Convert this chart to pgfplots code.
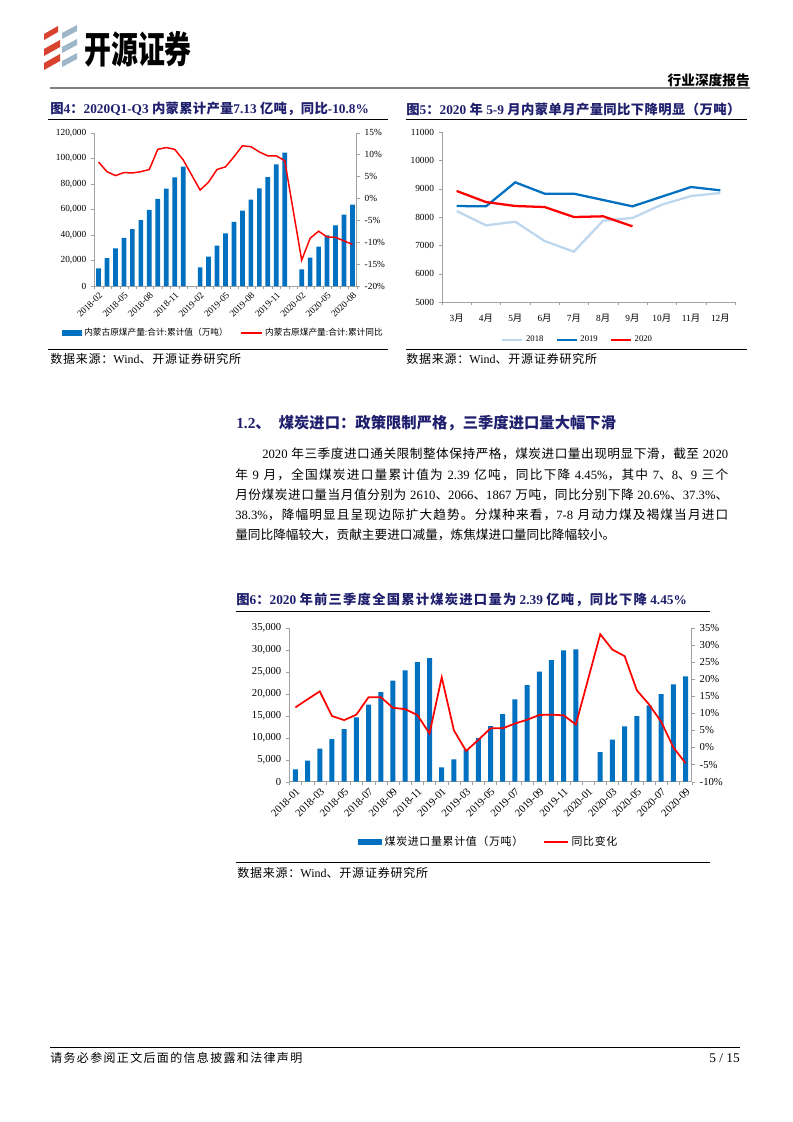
\documentclass[border=0pt]{standalone}
\usepackage{pgfplots}
\pgfplotsset{compat=1.18}
\usepackage{graphicx}
\usepackage{fontspec}
\setmainfont{Liberation Serif}
\newfontfamily\cjk{Noto Sans CJK SC}
% automatic switch to the CJK font for CJK characters
\XeTeXinterchartokenstate=1
\newXeTeXintercharclass\zhcls
\newcount\zhc
\zhc="2E80 \loop\ifnum\zhc<"A000 \XeTeXcharclass\zhc=\zhcls \advance\zhc by 1 \repeat
\zhc="FF00 \loop\ifnum\zhc<"FFF0 \XeTeXcharclass\zhc=\zhcls \advance\zhc by 1 \repeat
\newskip\zhgap \zhgap=0pt plus 1pt
\XeTeXinterchartoks 0 \zhcls = {\begingroup\cjk}
\XeTeXinterchartoks 4095 \zhcls = {\begingroup\cjk}
\XeTeXinterchartoks \zhcls 0 = {\endgroup}
\XeTeXinterchartoks \zhcls 4095 = {\endgroup}
\XeTeXinterchartoks \zhcls \zhcls = {\hskip\zhgap}

\definecolor{barblue}{HTML}{0070C0}
\definecolor{navy}{HTML}{1F1F6E}
\definecolor{lb}{HTML}{BDD7EE}
\definecolor{axgray}{HTML}{A0A0A0}
\definecolor{logored}{HTML}{D8422E}
\definecolor{logoblue}{HTML}{9DB6C8}

\pgfplotsset{
  base/.style={scale only axis, axis line style={axgray,-}, tick style={axgray},
    major tick length=2.5pt, minor tick length=2.5pt, tick align=outside,
    scaled ticks=false, clip=false, legend cell align=left},
}

\begin{document}
\begin{tikzpicture}
\begin{scope}[x=0.75pt,y=-0.75pt]
\fill[white] (0,0) rectangle (793,1122);
\useasboundingbox (0,0) rectangle (793,1122);
% ---------- header ----------
\fill[logored] (44,34) -- (58,26) -- (58,32) -- (44,40) -- cycle;
\fill[logored] (44,49) -- (60,40) -- (60,47) -- (44,56) -- cycle;
\fill[logored] (44,63) -- (60,54) -- (60,61) -- (44,70) -- cycle;
\fill[logoblue] (62,33) -- (77,25) -- (77,31) -- (62,39) -- cycle;
\fill[logoblue] (62,47) -- (77,39) -- (77,45) -- (62,53) -- cycle;
\fill[logoblue] (62,61) -- (77,53) -- (77,59) -- (62,67) -- cycle;
\node[anchor=west, inner sep=0] at (84,49) {\fontsize{28}{28}\selectfont\bfseries\scalebox{0.72}[1]{开源证券}};
\node[anchor=east, inner sep=0] at (750,80) {\fontsize{10.25}{12}\selectfont\bfseries 行业深度报告};
\draw[line width=1.5pt, color=gray] (50,88) -- (750,88);
% ---------- figure titles ----------
\node[anchor=west, inner sep=0, text=navy] at (50,109) {\fontsize{10}{12}\selectfont\bfseries\zhgap=0.2pt 图4：2020Q1-Q3 内蒙累计产量7.13 亿吨，同比-10.8\%};
\draw[line width=0.75pt] (48,119) -- (388,119);
\node[anchor=west, inner sep=0, text=navy] at (406,109) {\fontsize{10}{12}\selectfont\bfseries\zhgap=0.3pt 图5：2020 年 5-9 月内蒙单月产量同比下降明显（万吨）};
\draw[line width=0.75pt] (406,119) -- (747,119);
\draw[line width=0.75pt] (48,349) -- (388,349);
\node[anchor=west, inner sep=0] at (50,359) {\fontsize{9}{10}\selectfont\zhgap=0.6pt 数据来源：Wind、开源证券研究所};
\draw[line width=0.75pt] (406,349) -- (747,349);
\node[anchor=west, inner sep=0] at (406,359) {\fontsize{9}{10}\selectfont\zhgap=0.6pt 数据来源：Wind、开源证券研究所};
% ---------- section text ----------
\node[anchor=west, inner sep=0, text=navy] at (236,423) {\fontsize{11.5}{13}\selectfont\bfseries 1.2、\hspace{6pt}煤炭进口：政策限制严格，三季度进口量大幅下滑};
\node[anchor=west, inner sep=0] at (235,454) {\fontsize{9.5}{12}\selectfont\hbox to 369.75pt{\hspace{20.25pt}2020 年三季度进口通关限制整体保持严格，煤炭进口量出现明显下滑，截至 2020}};
\node[anchor=west, inner sep=0] at (235,474.3) {\fontsize{9.5}{12}\selectfont\hbox to 369.75pt{年 9 月，全国煤炭进口量累计值为 2.39 亿吨，同比下降 4.45\%，其中 7、8、9 三个}};
\node[anchor=west, inner sep=0] at (235,494.6) {\fontsize{9.5}{12}\selectfont\hbox to 369.75pt{月份煤炭进口量当月值分别为 2610、2066、1867 万吨，同比分别下降 20.6\%、37.3\%、}};
\node[anchor=west, inner sep=0] at (235,515) {\fontsize{9.5}{12}\selectfont\hbox to 369.75pt{38.3\%，降幅明显且呈现边际扩大趋势。分煤种来看，7-8 月动力煤及褐煤当月进口}};
\node[anchor=west, inner sep=0] at (235,535.3) {\fontsize{9.5}{12}\selectfont 量同比降幅较大，贡献主要进口减量，炼焦煤进口量同比降幅较小。};
% ---------- figure 6 title & source ----------
\node[anchor=west, inner sep=0, text=navy] at (236,600) {\fontsize{10}{12}\selectfont\bfseries\zhgap=0.9pt 图6：2020 年前三季度全国累计煤炭进口量为 2.39 亿吨，同比下降 4.45\%};
\draw[line width=0.75pt] (236,611) -- (710,611);
\draw[line width=0.75pt] (236,862) -- (710,862);
\node[anchor=west, inner sep=0] at (237,873) {\fontsize{9}{10}\selectfont\zhgap=0.6pt 数据来源：Wind、开源证券研究所};
% ---------- footer ----------
\draw[line width=0.75pt] (50,1047) -- (740,1047);
\node[anchor=west, inner sep=0] at (50,1058) {\fontsize{9}{10}\selectfont\zhgap=1pt 请务必参阅正文后面的信息披露和法律声明};
\node[anchor=east, inner sep=0] at (740,1058) {\fontsize{10}{11}\selectfont 5 / 15};
\end{scope}

% ================= Figure 4 =================
\begin{axis}[base, at={(70.725pt,-214.5pt)}, anchor=south west, width=196.8pt, height=115pt,
  xmin=-0.5, xmax=30.5, ymin=0, ymax=120000, ytick={0,20000,40000,60000,80000,100000,120000},
  yticklabels={0,{20,000},{40,000},{60,000},{80,000},{100,000},{120,000}},
  axis y line*=left, axis x line*=bottom,
  xtick={0,3,...,30},
  xticklabels={2018-02,2018-05,2018-08,2018-11,2019-02,2019-05,2019-08,2019-11,2020-02,2020-05,2020-08},
  major x tick style={draw=none}, minor xtick={-0.5,0.5,...,30.5},
  xticklabel style={rotate=45, anchor=north east, inner sep=1pt},
  tick label style={font=\fontsize{7}{8}\selectfont},
  legend style={at={(0.4924,-0.307)}, anchor=center, legend columns=2, draw=none, fill=none,
    font=\fontsize{6.5}{7}\selectfont, /tikz/every even column/.append style={column sep=7pt}},
]
\addplot[ybar, bar width=3.5pt, fill=barblue, draw=none,
  legend image code/.code={\fill[barblue] (0pt,-2.2pt) rectangle (15pt,2.2pt);}] coordinates {
(0,13800) (1,21900) (2,29500) (3,37600) (4,44600) (5,51600) (6,59500) (7,68100) (8,76200) (9,85000) (10,93400)
(12,14600) (13,23000) (14,31600) (15,41200) (16,50100) (17,59000) (18,67600) (19,76400) (20,85300) (21,95200) (22,104300)
(24,13000) (25,22200) (26,30800) (27,39700) (28,47500) (29,55800) (30,63700)};
\addlegendentry{内蒙古原煤产量:合计:累计值（万吨）}
\addlegendimage{red, line width=1.1pt, legend image code/.code={\draw[red, line width=1.1pt] (0pt,0pt) -- (16pt,0pt);}}
\addlegendentry{内蒙古原煤产量:合计:累计同比}
\end{axis}
\begin{axis}[base, at={(70.725pt,-214.5pt)}, anchor=south west, width=196.8pt, height=115pt,
  xmin=-0.5, xmax=30.5, ymin=-20, ymax=15, ytick={-20,-15,-10,-5,0,5,10,15},
  yticklabels={-20\%,-15\%,-10\%,-5\%,0\%,5\%,10\%,15\%},
  axis y line*=right, axis x line=none,
  tick label style={font=\fontsize{7}{8}\selectfont},
]
\addplot[red, line width=1.1pt] coordinates {
(0,8.3) (1,6.1) (2,5.2) (3,5.9) (4,5.8) (5,6.1) (6,6.6) (7,11.2) (8,11.6) (9,11.2) (10,8.8)
(12,1.9) (13,3.7) (14,6.6) (15,7.2) (16,9.5) (17,12.0) (18,11.8) (19,10.6) (20,9.7) (21,9.7) (22,8.6)
(24,-14.1) (25,-9.1) (26,-7.5) (27,-8.8) (28,-8.9) (29,-9.7) (30,-10.5)};
\end{axis}

% ================= Figure 5 =================
\begin{axis}[base, at={(331.5pt,-226.5pt)}, anchor=south west, width=219.75pt, height=127.5pt,
  xmin=-0.5, xmax=9.5, ymin=5000, ymax=11000, ytick={5000,6000,7000,8000,9000,10000,11000},
  yticklabels={5000,6000,7000,8000,9000,10000,11000},
  axis y line*=left, axis x line*=bottom,
  xtick={0,...,9}, xticklabels={3月,4月,5月,6月,7月,8月,9月,10月,11月,12月},
  major x tick style={draw=none}, minor xtick={-0.5,0.5,...,9.5},
  tick label style={font=\fontsize{7}{8}\selectfont},
  xticklabel style={yshift=-3pt},
  legend style={at={(0.464,-0.2235)}, anchor=center, legend columns=3, draw=none, fill=none,
    font=\fontsize{6.5}{7}\selectfont, /tikz/every even column/.append style={column sep=7pt}},
]
\addplot[lb, line width=1.7pt, legend image code/.code={\draw[lb, line width=1.7pt] (0pt,0pt) -- (15pt,0pt);}] coordinates {
(0,8212) (1,7706) (2,7835) (3,7153) (4,6776) (5,7871) (6,7965) (7,8435) (8,8741) (9,8847)};
\addlegendentry{2018}
\addplot[barblue, line width=1.7pt, legend image code/.code={\draw[barblue, line width=1.7pt] (0pt,0pt) -- (15pt,0pt);}] coordinates {
(0,8388) (1,8376) (2,9224) (3,8824) (4,8824) (5,8600) (6,8376) (7,8718) (8,9059) (9,8941)};
\addlegendentry{2019}
\addplot[red, line width=1.7pt, legend image code/.code={\draw[red, line width=1.7pt] (0pt,0pt) -- (15pt,0pt);}] coordinates {
(0,8918) (1,8529) (2,8388) (3,8353) (4,8000) (5,8024) (6,7671)};
\addlegendentry{2020}
\end{axis}

% ================= Figure 6 =================
\begin{axis}[base, at={(216.975pt,-586.275pt)}, anchor=south west, width=301.8pt, height=115.5pt,
  xmin=-0.5, xmax=32.5, ymin=0, ymax=35000, ytick={0,5000,10000,15000,20000,25000,30000,35000},
  yticklabels={0,{5,000},{10,000},{15,000},{20,000},{25,000},{30,000},{35,000}},
  axis y line*=left, axis x line*=bottom,
  xtick={0,2,...,32},
  xticklabels={2018-01,2018-03,2018-05,2018-07,2018-09,2018-11,2019-01,2019-03,2019-05,2019-07,2019-09,2019-11,2020-01,2020-03,2020-05,2020-07,2020-09},
  major x tick style={draw=none}, minor xtick={-0.5,0.5,...,32.5},
  xticklabel style={rotate=45, anchor=north east, inner sep=1pt},
  tick label style={font=\fontsize{8}{9}\selectfont},
  legend style={at={(0.4963,-0.3916)}, anchor=center, legend columns=2, draw=none, fill=none,
    font=\fontsize{8.2}{9}\selectfont, /tikz/every even column/.append style={column sep=13pt}},
]
\addplot[ybar, bar width=3.75pt, fill=barblue, draw=none,
  legend image code/.code={\fill[barblue] (0pt,-2.5pt) rectangle (18pt,2.5pt);}] coordinates {
(0,2800) (1,4770) (2,7500) (3,9700) (4,11970) (5,14620) (6,17500) (7,20380) (8,22950) (9,25300) (10,27200) (11,28100)
(12,3260) (13,5080) (14,7350) (15,9920) (16,12650) (17,15380) (18,18710) (19,21970) (20,25000) (21,27650) (22,29850) (23,30080)
(25,6740) (26,9550) (27,12580) (28,14920) (29,17350) (30,19920) (31,22120) (32,23940)};
\addlegendentry{\zhgap=0.5pt 煤炭进口量累计值（万吨）}
\addlegendimage{red, line width=1.3pt, legend image code/.code={\draw[red, line width=1.3pt] (0pt,0pt) -- (18pt,0pt);}}
\addlegendentry{\zhgap=0.5pt 同比变化}
\end{axis}
\begin{axis}[base, at={(216.975pt,-586.275pt)}, anchor=south west, width=301.8pt, height=115.5pt,
  xmin=-0.5, xmax=32.5, ymin=-10, ymax=35, ytick={-10,-5,0,5,10,15,20,25,30,35},
  yticklabels={-10\%,-5\%,0\%,5\%,10\%,15\%,20\%,25\%,30\%,35\%},
  axis y line*=right, axis x line=none,
  tick label style={font=\fontsize{8}{9}\selectfont},
]
\addplot[red, line width=1.3pt] coordinates {
(0,11.7) (1,14.1) (2,16.4) (3,9.2) (4,8.0) (5,9.6) (6,14.7) (7,14.7) (8,11.6) (9,11.2) (10,9.5) (11,4.1)
(12,20.5) (13,5.0) (14,-1.0) (15,2.2) (16,5.6) (17,5.6) (18,7.0) (19,8.1) (20,9.5) (21,9.6) (22,9.4) (23,6.7)
(25,33.1) (26,28.6) (27,26.7) (28,16.7) (29,12.6) (30,7.5) (31,0.0) (32,-4.6)};
\end{axis}
\end{tikzpicture}
\end{document}
